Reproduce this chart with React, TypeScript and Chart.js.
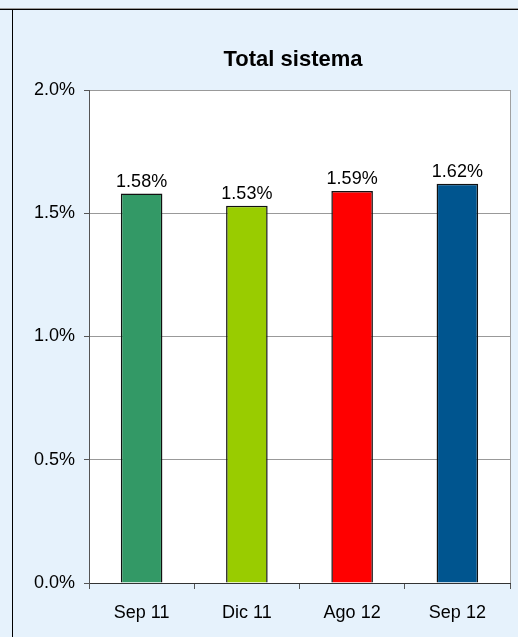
import React, { useEffect, useRef } from "react";
import { Chart, registerables } from "chart.js";

Chart.register(...registerables);

const categories = ["Sep 11", "Dic 11", "Ago 12", "Sep 12"];
const values = [1.58, 1.53, 1.59, 1.62];
const valueLabels = ["1.58%", "1.53%", "1.59%", "1.62%"];
const barColors = ["#339966", "#99cc00", "#ff0000", "#00558f"];
const yTicks = [0, 0.5, 1.0, 1.5, 2.0];
const title = "Total sistema";

const FONT = "'Liberation Sans', Arial, sans-serif";

export default function App() {
  const ref = useRef<HTMLCanvasElement | null>(null);

  useEffect(() => {
    const canvas = ref.current;
    if (!canvas) return;
    document.body.style.margin = "0";

    const framePlugin = {
      id: "frame",
      beforeDraw(chart: any) {
        const { ctx, chartArea: a, width, height } = chart;
        ctx.save();
        ctx.fillStyle = "#e6f2fc";
        ctx.fillRect(0, 0, width, height);
        ctx.fillStyle = "#ffffff";
        ctx.fillRect(a.left, a.top, a.right - a.left, a.bottom - a.top);
        ctx.restore();
      },
      afterDraw(chart: any) {
        const { ctx, chartArea: a, width, height } = chart;
        ctx.save();
        ctx.strokeStyle = "#a0a0a0";
        ctx.lineWidth = 1;
        ctx.beginPath();
        ctx.moveTo(a.right + 0.5, a.top);
        ctx.lineTo(a.right + 0.5, a.bottom);
        ctx.stroke();
        ctx.strokeStyle = "#9a9a9a";
        ctx.beginPath();
        ctx.moveTo(0, 8.5);
        ctx.lineTo(width, 8.5);
        ctx.stroke();
        ctx.strokeStyle = "#000000";
        ctx.beginPath();
        ctx.moveTo(0, 9.5);
        ctx.lineTo(width, 9.5);
        ctx.stroke();
        ctx.beginPath();
        ctx.moveTo(12.5, 9);
        ctx.lineTo(12.5, height);
        ctx.stroke();
        ctx.fillStyle = "#000";
        ctx.font = `bold 22px ${FONT}`;
        ctx.textAlign = "center";
        ctx.textBaseline = "alphabetic";
        ctx.fillText(title, 293, 66);
        ctx.restore();
      },
      afterDatasetsDraw(chart: any) {
        const { ctx } = chart;
        const meta = chart.getDatasetMeta(0);
        ctx.save();
        ctx.fillStyle = "#000";
        ctx.font = `18px ${FONT}`;
        ctx.textAlign = "center";
        ctx.textBaseline = "alphabetic";
        meta.data.forEach((bar: any, i: number) => {
          ctx.fillText(valueLabels[i], bar.x, bar.y - 7);
        });
        ctx.restore();
      },
    };

    const chart = new Chart(canvas, {
      type: "bar",
      data: {
        labels: categories,
        datasets: [
          {
            data: values,
            backgroundColor: barColors,
            borderColor: "#111111",
            borderWidth: 1.5,
            barPercentage: 0.395,
            categoryPercentage: 1,
          },
        ],
      },
      options: {
        animation: false,
        responsive: false,
        devicePixelRatio: 1,
        layout: { padding: { top: 90, right: 8, left: 0, bottom: 0 } },
        plugins: {
          legend: { display: false },
          title: { display: false },
          tooltip: { enabled: false },
        },
        scales: {
          x: {
            offset: true,
            grid: {
              offset: true,
              drawOnChartArea: false,
              tickLength: 6,
              tickColor: "#555555",
            },
            border: { display: true, color: "#333333" },
            ticks: {
              color: "#000",
              font: { family: FONT, size: 18 },
              padding: 13,
            },
            afterFit: (s: any) => {
              s.height = 54;
            },
          },
          y: {
            min: 0,
            max: 2,
            afterBuildTicks: (s: any) => {
              s.ticks = yTicks.map((v) => ({ value: v }));
            },
            grid: {
              color: "#999999",
              tickLength: 5,
              tickColor: "#555555",
            },
            border: { display: true, color: "#555555" },
            ticks: {
              color: "#000",
              font: { family: FONT, size: 18 },
              padding: 9,
              callback: (v: any) => `${Number(v).toFixed(1)}%`,
            },
            afterFit: (s: any) => {
              s.width = 89;
            },
          },
        },
      },
      plugins: [framePlugin],
    });

    return () => chart.destroy();
  }, []);

  return (
    <div style={{ position: "absolute", left: 0, top: 0, width: 518, height: 637 }}>
      <canvas ref={ref} width={518} height={637} style={{ width: 518, height: 637, display: "block" }} />
    </div>
  );
}
